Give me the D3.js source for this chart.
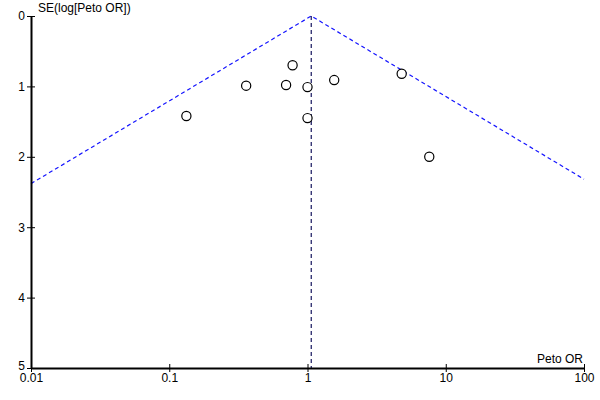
<!DOCTYPE html>
<html>
<head>
<meta charset="utf-8">
<script src="https://cdn.jsdelivr.net/npm/d3@7"></script>
<style>
  body { margin: 0; background: #fff; }
  text { font-family: "Liberation Sans", Arial, sans-serif; font-size: 12px; fill: #000; }
</style>
</head>
<body>
<svg id="canvas" width="600" height="400"></svg>
<script>
// study estimates
let petoOR = [0.78, 0.36, 0.70, 1.00, 1.56, 0.133, 1.00, 4.8, 7.6]
let seLogOR = [0.70, 0.99, 0.98, 1.01, 0.91, 1.42, 1.45, 0.82, 2.00]
let pooledOR = 1.064
let xTicks = [0.01, 0.1, 1, 10, 100]
let xTickLabels = ['0.01', '0.1', '1', '10', '100']
let yTicks = [0, 1, 2, 3, 4, 5]

let canvas = d3.select('#canvas')

let x = d3.scaleLog().domain([0.01, 100]).range([31, 584])
let y = d3.scaleLinear().domain([0, 5]).range([16, 368])

// funnel (95% pseudo confidence limits)
let z = 1.96
let leftEnd = [0.01, (Math.log(pooledOR) - Math.log(0.01)) / z]
let rightEnd = [100, (Math.log(100) - Math.log(pooledOR)) / z]
let funnel = [leftEnd, [pooledOR, 0], rightEnd]

canvas.append('path')
    .datum(funnel)
    .attr('d', d3.line().x(d => x(d[0])).y(d => y(d[1])))
    .attr('fill', 'none')
    .attr('stroke', '#1515ff')
    .attr('stroke-width', 1.2)
    .attr('stroke-dasharray', '4,3')

canvas.append('line')
    .attr('x1', x(pooledOR)).attr('x2', x(pooledOR))
    .attr('y1', y(0)).attr('y2', y(5))
    .attr('stroke', '#000050')
    .attr('stroke-width', 1.1)
    .attr('stroke-dasharray', '4,3')

// axes
let xAxis = d3.axisBottom(x)
    .tickValues(xTicks)
    .tickFormat((d, i) => xTickLabels[i])
    .tickSizeInner(4)
    .tickSizeOuter(0)
    .tickPadding(1)

let gx = canvas.append('g')
    .attr('transform', 'translate(0,' + y(5) + ')')
    .call(xAxis)
gx.select('.domain').attr('stroke', '#000').attr('stroke-width', 2)
gx.selectAll('.tick line').attr('y1', -4).attr('stroke', '#000')
gx.selectAll('.tick text').attr('font-size', 12).attr('font-family', '"Liberation Sans", Arial, sans-serif')

let yAxis = d3.axisLeft(y)
    .tickValues(yTicks)
    .tickFormat(d3.format('d'))
    .tickSizeInner(4)
    .tickSizeOuter(0)
    .tickPadding(2)

let gy = canvas.append('g')
    .attr('transform', 'translate(' + x(0.01) + ',0)')
    .call(yAxis)
gy.select('.domain').attr('stroke', '#000').attr('stroke-width', 2)
gy.selectAll('.tick line').attr('x1', 4).attr('x2', -4).attr('stroke', '#000')
gy.selectAll('.tick text').attr('font-size', 12).attr('font-family', '"Liberation Sans", Arial, sans-serif')
gy.selectAll('.tick text').filter(d => d === 5).attr('dy', '0.1em')

// axis titles
canvas.append('text')
    .attr('x', 38)
    .attr('y', 12)
    .text('SE(log[Peto OR])')

canvas.append('text')
    .attr('x', 583)
    .attr('y', 363)
    .attr('text-anchor', 'end')
    .text('Peto OR')

// studies
canvas.selectAll('circle')
    .data(petoOR)
    .enter()
    .append('circle')
    .attr('cx', d => x(d))
    .attr('cy', (d, i) => y(seLogOR[i]))
    .attr('r', 4.6)
    .attr('fill', '#fff')
    .attr('stroke', '#000')
    .attr('stroke-width', 1.2)
</script>
</body>
</html>
